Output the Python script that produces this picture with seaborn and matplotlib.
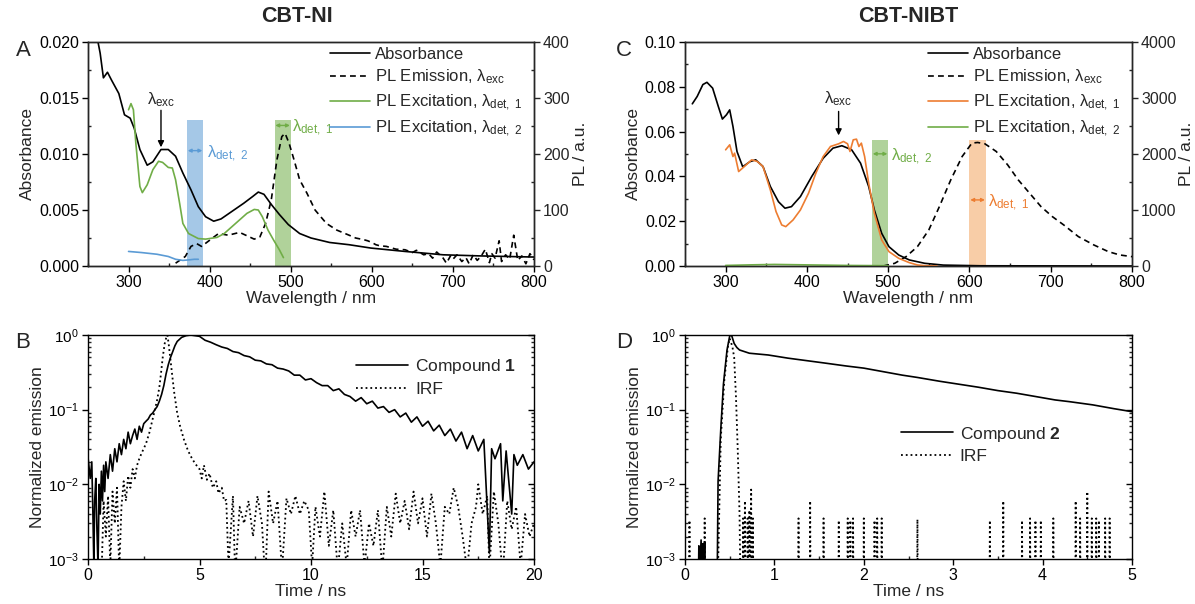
import matplotlib
matplotlib.use("Agg")
import matplotlib.pyplot as plt
import numpy as np
import seaborn as sns

# ---- panel A: CBT-NI steady state ----
a_wl = [261, 265, 269, 274, 279, 288, 295, 302, 307, 314, 323, 330, 340, 349, 358, 367, 377, 386, 395, 405,
        414, 428, 442, 453, 460, 467, 476, 486, 497, 511, 525, 548, 572, 599, 641, 688, 734, 800]
a_abs = [0.0205, 0.0190, 0.0168, 0.0173, 0.0166, 0.0154, 0.0135, 0.0132, 0.0123, 0.0104,
         0.0090, 0.0093, 0.0104, 0.0104, 0.0098, 0.0083, 0.0068, 0.0053, 0.0044, 0.0040,
         0.0042, 0.0049, 0.0056, 0.0062, 0.0066, 0.0064, 0.0055, 0.0046, 0.0037, 0.0029,
         0.0025, 0.0021, 0.0019, 0.0016, 0.0013, 0.0010, 0.0009, 0.0008]
a_ex1_wl = [300, 303, 306, 309, 314, 317, 323, 330, 337, 342, 349, 354, 358, 363, 367, 374, 386, 395, 409, 418,
            432, 446, 455, 460, 465, 472, 479, 486, 491]
a_ex1 = [279, 290, 279, 219, 142, 131, 145, 172, 187, 185, 176, 175, 154, 112, 76, 58, 49, 48, 51, 58,
         76, 94, 101, 100, 88, 64, 46, 29, 15]
a_ex2_wl = [300, 316, 335, 349, 358, 367, 375, 381, 386]
a_ex2 = [26, 24, 21, 17, 12, 10, 11, 12, 12]
a_em = [(358, 5), (365, 12), (370, 17), (377, 35), (384, 40), (390, 35), (400, 46), (411, 58), (423, 55),
        (437, 60), (446, 54), (455, 48), (462, 52), (469, 76), (476, 118), (483, 190), (489, 231), (493, 237),
        (498, 219), (504, 190), (511, 154), (520, 130), (530, 100), (544, 76), (557, 64), (572, 55), (580, 50),
        (590, 47), (595, 45), (600, 42), (605, 38), (610, 36), (618, 35), (625, 32), (630, 30), (641, 29),
        (650, 24), (655, 28), (664, 20), (670, 22), (675, 14), (680, 25), (688, 14), (692, 5), (697, 18),
        (700, 12), (705, 20), (711, 8), (716, 15), (720, 4), (725, 20), (730, 10), (735, 18), (740, 30),
        (745, 6), (748, 22), (752, 14), (757, 45), (760, 8), (765, 20), (770, 12), (775, 55), (780, 10),
        (785, 18), (790, 4), (795, 22), (800, 11)]
a_windows = [(372, 392, "#5b9bd5"), (480, 500, "#70ad47")]

# ---- panel C: CBT-NIBT steady state ----
c_wl = [259, 265, 272, 277, 284, 291, 296, 301, 305, 309, 314, 321, 330, 337, 346, 355, 365, 373, 381, 392,
        406, 420, 432, 443, 455, 466, 476, 483, 492, 501, 513, 526, 545, 568, 614, 800]
c_abs = [0.0724, 0.0757, 0.081, 0.082, 0.0794, 0.0712, 0.0656, 0.0675, 0.0697, 0.0623,
         0.0511, 0.0443, 0.0466, 0.0474, 0.0444, 0.0355, 0.0287, 0.0258, 0.0265, 0.031,
         0.040, 0.0481, 0.0526, 0.0537, 0.0519, 0.0459, 0.0355, 0.025, 0.0146, 0.0086,
         0.0049, 0.0027, 0.0012, 0.0004, 0.0001, 0.0]
c_ex1_wl = [300, 305, 309, 311, 316, 323, 332, 339, 346, 355, 362, 369, 374, 383, 392, 402, 411, 420, 429, 439,
            445, 450, 453, 457, 461, 464, 467, 471, 476, 483, 492, 501, 513, 526, 536, 545, 560]
c_ex1 = [2075, 2164, 1955, 2015, 1687, 1776, 1896, 1866, 1776, 1359, 972, 733, 703, 823, 1001, 1300, 1657,
         1955, 2134, 2182, 2224, 2182, 2045, 2253, 2265, 2134, 2194, 1955, 1478, 942, 465, 256, 137, 60,
         18, 6, 0]
c_ex2_wl = [300, 330, 360, 400, 450, 500]
c_ex2 = [10, 20, 28, 20, 10, 5]
c_em_wl = [494, 508, 522, 536, 550, 563, 577, 591, 603, 610, 619, 633, 647, 660, 674, 688, 702, 716, 734, 753,
           771, 785, 800]
c_em = [0, 48, 167, 346, 644, 1061, 1538, 1955, 2194, 2206, 2182, 2045, 1806, 1538, 1300, 1061, 882, 733,
        525, 376, 256, 197, 167]
c_windows = [(480, 500, "#70ad47"), (600, 620, "#f4a460")]

# ---- panel B: compound 1 decay ----
b_cmp = [(0.0, 0.023), (0.1, 0.012), (0.17, 0.02), (0.22, 0.004), (0.26, 0.0009), (0.3, 0.006), (0.35, 0.012),
         (0.4, 0.0025), (0.45, 0.0008), (0.5, 0.01), (0.55, 0.004), (0.6, 0.015), (0.65, 0.006), (0.7, 0.018),
         (0.75, 0.008), (0.8, 0.02), (0.9, 0.012), (1.0, 0.025), (1.1, 0.015), (1.2, 0.03), (1.3, 0.02),
         (1.4, 0.035), (1.5, 0.025), (1.6, 0.04), (1.7, 0.03), (1.8, 0.05), (1.9, 0.035), (2.0, 0.045),
         (2.1, 0.055), (2.2, 0.04), (2.3, 0.06), (2.4, 0.05), (2.5, 0.065), (2.6, 0.07), (2.7, 0.075),
         (2.8, 0.085), (2.9, 0.09), (3.0, 0.1), (3.1, 0.11), (3.2, 0.13), (3.3, 0.16), (3.4, 0.21), (3.5, 0.3),
         (3.6, 0.4), (3.7, 0.5), (3.8, 0.6), (3.9, 0.72), (4.0, 0.82), (4.2, 0.93), (4.4, 0.98), (4.6, 1.0),
         (4.8, 0.98), (5.0, 0.96), (5.25, 0.85), (5.5, 0.80), (5.75, 0.74), (6.0, 0.69), (6.25, 0.66),
         (6.5, 0.60), (6.75, 0.58), (7.0, 0.53), (7.25, 0.51), (7.5, 0.46), (7.75, 0.45), (8.0, 0.41),
         (8.25, 0.40), (8.5, 0.36), (8.75, 0.35), (9.0, 0.33), (9.25, 0.29), (9.5, 0.29), (9.75, 0.25),
         (10.0, 0.26), (10.25, 0.23), (10.5, 0.21), (10.75, 0.21), (11.0, 0.18), (11.25, 0.19), (11.5, 0.16),
         (11.75, 0.15), (12.0, 0.13), (12.25, 0.145), (12.5, 0.12), (12.75, 0.13), (13.0, 0.105),
         (13.25, 0.11), (13.5, 0.092), (13.75, 0.10), (14.0, 0.08), (14.25, 0.09), (14.5, 0.068),
         (14.75, 0.08), (15.0, 0.06), (15.25, 0.07), (15.5, 0.052), (15.75, 0.062), (16.0, 0.045),
         (16.25, 0.055), (16.5, 0.038), (16.75, 0.05), (17.0, 0.03), (17.25, 0.045), (17.5, 0.028),
         (17.75, 0.04), (18.0, 0.0012), (18.1, 0.03), (18.25, 0.022), (18.5, 0.035), (18.6, 0.006),
         (18.75, 0.028), (19.0, 0.004), (19.1, 0.025), (19.25, 0.018), (19.5, 0.025), (19.75, 0.016),
         (20.0, 0.02)]
b_irf = [(0.6, 0.0005), (0.7, 0.006), (0.8, 0.002), (0.9, 0.007), (1.0, 0.0008), (1.1, 0.008), (1.2, 0.003),
         (1.3, 0.009), (1.4, 0.0007), (1.5, 0.005), (1.6, 0.011), (1.7, 0.006), (1.8, 0.013), (1.9, 0.009),
         (2.0, 0.016), (2.1, 0.012), (2.2, 0.018), (2.3, 0.022), (2.4, 0.026), (2.6, 0.035), (2.75, 0.049),
         (2.9, 0.075), (3.0, 0.1), (3.1, 0.135), (3.2, 0.2), (3.27, 0.3), (3.35, 0.5), (3.44, 0.77),
         (3.52, 0.95), (3.56, 1.0), (3.62, 0.75), (3.7, 0.46), (3.8, 0.25), (3.87, 0.166), (4.0, 0.09),
         (4.13, 0.06), (4.3, 0.04), (4.47, 0.029), (4.6, 0.024), (4.8, 0.019), (5.0, 0.016), (5.1, 0.012),
         (5.2, 0.018), (5.33, 0.0115), (5.45, 0.014), (5.6, 0.009), (5.75, 0.011), (5.85, 0.0076),
         (6.0, 0.009), (6.1, 0.006), (6.2, 0.0062), (6.3, 0.0008), (6.5, 0.007), (6.6, 0.0006), (6.8, 0.005),
         (7.0, 0.003), (7.2, 0.006), (7.4, 0.002), (7.6, 0.007), (7.8, 0.003), (7.95, 0.0005), (8.1, 0.008),
         (8.3, 0.003), (8.5, 0.006), (8.7, 0.0007), (8.9, 0.0065), (9.1, 0.004), (9.3, 0.007), (9.5, 0.004),
         (9.7, 0.006), (9.9, 0.0045), (10.05, 0.0008), (10.2, 0.005), (10.4, 0.002), (10.6, 0.008),
         (10.8, 0.0015), (11.0, 0.0045), (11.2, 0.0007), (11.4, 0.003), (11.6, 0.0008), (11.8, 0.0045),
         (12.0, 0.002), (12.2, 0.0045), (12.4, 0.0008), (12.6, 0.003), (12.8, 0.0015), (13.0, 0.0045),
         (13.2, 0.0007), (13.4, 0.005), (13.6, 0.002), (13.8, 0.0075), (14.0, 0.003), (14.2, 0.006),
         (14.4, 0.0025), (14.6, 0.008), (14.8, 0.003), (15.0, 0.0065), (15.2, 0.002), (15.4, 0.0075),
         (15.6, 0.003), (15.8, 0.0008), (16.0, 0.005), (16.2, 0.004), (16.4, 0.009), (16.6, 0.005),
         (16.8, 0.002), (17.0, 0.0007), (17.2, 0.003), (17.4, 0.005), (17.5, 0.01), (17.7, 0.004),
         (17.9, 0.007), (18.0, 0.0007), (18.2, 0.008), (18.4, 0.003), (18.6, 0.0006), (18.8, 0.006),
         (19.0, 0.0025), (19.2, 0.005), (19.4, 0.0008), (19.6, 0.004), (19.8, 0.002), (20.0, 0.003)]

# ---- panel D: compound 2 decay ----
d_cmp = [(0.0, 0.0005), (0.15, 0.0005), (0.155, 0.0015), (0.16, 0.0005), (0.18, 0.0018), (0.19, 0.0008),
         (0.2, 0.0016), (0.21, 0.0007), (0.22, 0.0017), (0.23, 0.0005), (0.36, 0.0005), (0.37, 0.011),
         (0.4, 0.054), (0.43, 0.22), (0.47, 0.63), (0.5, 0.97), (0.52, 1.0), (0.55, 0.77), (0.58, 0.68),
         (0.61, 0.63), (0.72, 0.57), (0.93, 0.54), (1.15, 0.49), (1.57, 0.42), (1.8, 0.385), (2.0, 0.36),
         (2.43, 0.29), (2.6, 0.27), (2.85, 0.24), (3.28, 0.2), (3.5, 0.18), (3.71, 0.166), (4.14, 0.135),
         (4.3, 0.128), (4.56, 0.116), (4.8, 0.103), (5.0, 0.094)]
d_irf_pulse = [(0.37, 0.0008), (0.4, 0.04), (0.44, 0.25), (0.48, 0.7), (0.5, 0.9), (0.53, 0.7), (0.55, 0.5),
               (0.57, 0.15), (0.59, 0.029), (0.61, 0.004), (0.62, 0.0005)]
d_spike_t = [0.05, 0.22, 0.65, 0.67, 0.7, 0.72, 0.74, 0.76, 1.27, 1.4,
             1.55, 1.72, 1.82, 1.85, 1.88, 2.0, 2.12, 2.15, 2.2, 2.6,
             3.41, 3.56, 3.77, 3.86, 3.92, 3.98, 4.12, 4.37, 4.42, 4.5,
             4.55, 4.6, 4.63, 4.7, 4.75]
d_spike_h = [0.0033, 0.0035, 0.0035, 0.006, 0.0035, 0.0045, 0.0085, 0.0035, 0.0035, 0.006,
             0.0035, 0.0033, 0.0035, 0.0033, 0.0035, 0.0035, 0.0033, 0.0035, 0.0035, 0.0034,
             0.0033, 0.006, 0.0033, 0.0035, 0.0033, 0.0033, 0.0035, 0.006, 0.0035, 0.008,
             0.0035, 0.0035, 0.0033, 0.0035, 0.0035]

GREEN = "#70ad47"
BLUE = "#5b9bd5"
ORANGE = "#ed7d31"
DASH = (0, (3.5, 2.5))
TICK_FS = 11.5
LABEL_FS = 12.5
LEG_FS = 12

sns.set_style("ticks")
plt.rcParams["font.family"] = ["Liberation Sans", "DejaVu Sans"]
plt.rcParams["mathtext.fontset"] = "custom"
plt.rcParams["mathtext.rm"] = "Liberation Sans"
plt.rcParams["mathtext.it"] = "Liberation Sans:italic"
plt.rcParams["mathtext.bf"] = "Liberation Sans:bold"
plt.rcParams["axes.linewidth"] = 1.0

W, H = 1195, 604
fig = plt.figure(figsize=(11.95, 6.04), dpi=100)


def px_axes(left, top, right, bottom):
    return fig.add_axes([left / W, 1 - bottom / H, (right - left) / W, (bottom - top) / H])


axA = px_axes(88, 42, 534, 266)
axC = px_axes(685, 42, 1132, 266)
axB = px_axes(88, 335, 534, 559)
axD = px_axes(685, 335, 1132, 559)


def style_ticks(ax):
    ax.tick_params(which="major", direction="out", length=4, width=1, labelsize=TICK_FS, colors="k", pad=2.5)
    ax.tick_params(which="minor", direction="in", length=2.5, width=1)
    ax.tick_params(top=False, which="both")
    for s in ax.spines.values():
        s.set_visible(True)
        s.set_color("k")


def line(ax, x, y, color, ls="-", lw=1.2):
    sns.lineplot(x=list(x), y=list(y), ax=ax, color=color, linestyle=ls, lw=lw, sort=False,
                 estimator=None, legend=False)


def lam(sub):
    return "\u03bb" + r"$_{\rm " + sub.replace(" ", r"\ ") + "}$"


def spectra(ax, abs_wl, abs_y, em_wl, em_y, ex1, ex2, windows, ymax, plmax, win_top):
    ax2 = ax.twinx()
    for lo, hi, col in windows:
        ax.fill_between([lo, hi], 0, win_top, color=col, alpha=0.55, lw=0, zorder=0)
    line(ax, abs_wl, abs_y, "k")
    line(ax2, em_wl, em_y, "k", ls=DASH)
    line(ax2, ex1[0], ex1[1], ex1[2])
    line(ax2, ex2[0], ex2[1], ex2[2])
    ax.set_xlim(260, 800)
    ax.set_ylim(0, ymax)
    ax2.set_ylim(0, plmax)
    ax.set_xticks([300, 400, 500, 600, 700, 800])
    ax.set_xticks(np.arange(250, 801, 50), minor=True)
    ax.set_xlabel("Wavelength / nm", fontsize=LABEL_FS, labelpad=1)
    ax.set_ylabel("Absorbance", fontsize=LABEL_FS, labelpad=3)
    ax2.set_ylabel("PL / a.u.", fontsize=LABEL_FS, labelpad=2)
    style_ticks(ax)
    ax2.tick_params(which="major", direction="out", length=4, width=1, labelsize=TICK_FS, pad=2.5)
    ax2.tick_params(which="minor", direction="in", length=2.5, width=1)
    ax2.grid(False)
    ax.grid(False)
    return ax2


# panel A
a_em_wl = [p[0] for p in a_em]
a_em_y = [p[1] for p in a_em]
axA2 = spectra(axA, a_wl, a_abs, a_em_wl, a_em_y, (a_ex1_wl, a_ex1, GREEN), (a_ex2_wl, a_ex2, BLUE),
               a_windows, 0.020, 400, 0.0130)
axA.set_yticks([0, 0.005, 0.010, 0.015, 0.020])
axA.set_yticklabels(["0.000", "0.005", "0.010", "0.015", "0.020"])
axA.set_yticks(np.arange(0, 0.0201, 0.0025), minor=True)
axA2.set_yticks([0, 100, 200, 300, 400])
axA2.set_yticks(np.arange(0, 401, 50), minor=True)
axA.text(340, 0.0140, lam("exc"), ha="center", va="bottom", fontsize=LEG_FS)
axA.annotate("", xy=(340, 0.0106), xytext=(340, 0.0139),
             arrowprops=dict(arrowstyle="-|>", color="k", lw=1, mutation_scale=9, shrinkA=0, shrinkB=0))
axA2.annotate("", xy=(373, 206), xytext=(391, 206),
              arrowprops=dict(arrowstyle="<|-|>", color=BLUE, lw=1, mutation_scale=5, shrinkA=0, shrinkB=0))
axA2.text(397, 200, lam("det, 2"), color=BLUE, ha="left", va="center", fontsize=LEG_FS)
axA2.annotate("", xy=(481, 251), xytext=(499, 251),
              arrowprops=dict(arrowstyle="<|-|>", color=GREEN, lw=1, mutation_scale=5, shrinkA=0, shrinkB=0))
axA2.text(502, 247, lam("det, 1"), color=GREEN, ha="left", va="center", fontsize=LEG_FS)

# panel C
axC2 = spectra(axC, c_wl, c_abs, c_em_wl, c_em, (c_ex1_wl, c_ex1, ORANGE), (c_ex2_wl, c_ex2, GREEN),
               c_windows, 0.10, 4000, 0.0561)
axC.set_yticks([0, 0.02, 0.04, 0.06, 0.08, 0.10])
axC.set_yticklabels(["0.00", "0.02", "0.04", "0.06", "0.08", "0.10"])
axC.set_yticks(np.arange(0, 0.101, 0.01), minor=True)
axC2.set_yticks([0, 1000, 2000, 3000, 4000])
axC2.set_yticks(np.arange(0, 4001, 500), minor=True)
axC.text(439, 0.0705, lam("exc"), ha="center", va="bottom", fontsize=LEG_FS)
axC.annotate("", xy=(439, 0.0583), xytext=(439, 0.0690),
             arrowprops=dict(arrowstyle="-|>", color="k", lw=1, mutation_scale=9, shrinkA=0, shrinkB=0))
axC2.annotate("", xy=(481, 2003), xytext=(499, 2003),
              arrowprops=dict(arrowstyle="<|-|>", color=GREEN, lw=1, mutation_scale=5, shrinkA=0, shrinkB=0))
axC2.text(503, 1950, lam("det, 2"), color=GREEN, ha="left", va="center", fontsize=LEG_FS)
axC2.annotate("", xy=(601, 1180), xytext=(619, 1180),
              arrowprops=dict(arrowstyle="<|-|>", color=ORANGE, lw=1, mutation_scale=5, shrinkA=0, shrinkB=0))
axC2.text(623, 1130, lam("det, 1"), color=ORANGE, ha="left", va="center", fontsize=LEG_FS)

for ax2, c1, c2 in [(axA2, GREEN, BLUE), (axC2, ORANGE, GREEN)]:
    handles = [plt.Line2D([], [], color="k", lw=1.2),
               plt.Line2D([], [], color="k", lw=1.2, linestyle=DASH),
               plt.Line2D([], [], color=c1, lw=1.2),
               plt.Line2D([], [], color=c2, lw=1.2)]
    labels = ["Absorbance", "PL Emission, " + lam("exc"), "PL Excitation, " + lam("det, 1"),
              "PL Excitation, " + lam("det, 2")]
    ax2.legend(handles, labels, loc="upper right", bbox_to_anchor=(1.0, 1.03), frameon=False,
               fontsize=LEG_FS, handlelength=2.4, handletextpad=0.3, labelspacing=0.35, borderaxespad=0.3)


# decay panels
def decay(ax, cmp_pts, irf_t, irf_y, xmax, label, legend_anchor):
    ax.set_yscale("log")
    line(ax, [p[0] for p in cmp_pts], [p[1] for p in cmp_pts], "k", lw=1.2)
    line(ax, irf_t, irf_y, "k", ls=":", lw=1.3)
    ax.set_xlim(0, xmax)
    ax.set_ylim(1e-3, 1)
    ax.set_xlabel("Time / ns", fontsize=LABEL_FS, labelpad=1)
    ax.set_ylabel("Normalized emission", fontsize=LABEL_FS, labelpad=2)
    style_ticks(ax)
    ax.tick_params(axis="y", which="major", labelsize=TICK_FS - 0.5)
    ax.tick_params(axis="y", which="both", right=True, labelright=False)
    # ticks on the right spine point inwards
    for t in ax.yaxis.get_major_ticks() + ax.yaxis.get_minor_ticks():
        t.tick2line.set_marker(matplotlib.lines.TICKLEFT)
    ax.grid(False)
    handles = [plt.Line2D([], [], color="k", lw=1.2), plt.Line2D([], [], color="k", lw=1.3, linestyle=":")]
    ax.legend(handles, ["Compound " + r"$\mathbf{" + label + "}$", "IRF"], loc="upper right",
              bbox_to_anchor=legend_anchor, frameon=False, fontsize=LEG_FS + 0.5, handlelength=3.0,
              handletextpad=0.4, labelspacing=0.3)


decay(axB, b_cmp, [p[0] for p in b_irf], [p[1] for p in b_irf], 20, "1", (0.995, 0.97))
axB.set_xticks([0, 5, 10, 15, 20])
axB.set_xticks(np.arange(0, 20.1, 2.5), minor=True)

d_irf = list(d_irf_pulse)
floor = 1e-4
for t, h in zip(d_spike_t, d_spike_h):
    d_irf += [(t - 0.006, floor), (t, h), (t + 0.006, floor)]
d_irf.sort()
d_irf = [(0.0, floor)] + d_irf + [(5.0, floor)]
decay(axD, d_cmp, [p[0] for p in d_irf], [p[1] for p in d_irf], 5, "2", (0.875, 0.67))
axD.set_xticks([0, 1, 2, 3, 4, 5])
axD.set_xticks(np.arange(0, 5.01, 0.5), minor=True)

# titles and panel letters
fig.text(297 / W, 1 - 16 / H, "CBT-NI", ha="center", va="center", fontsize=15.5, fontweight="bold")
fig.text(908 / W, 1 - 16 / H, "CBT-NIBT", ha="center", va="center", fontsize=15.5, fontweight="bold")
for x, y, s in [(23, 50, "A"), (624, 50, "C"), (23, 343, "B"), (624, 343, "D")]:
    fig.text(x / W, 1 - y / H, s, ha="center", va="center", fontsize=16)

fig.savefig("out.png", dpi=100)
